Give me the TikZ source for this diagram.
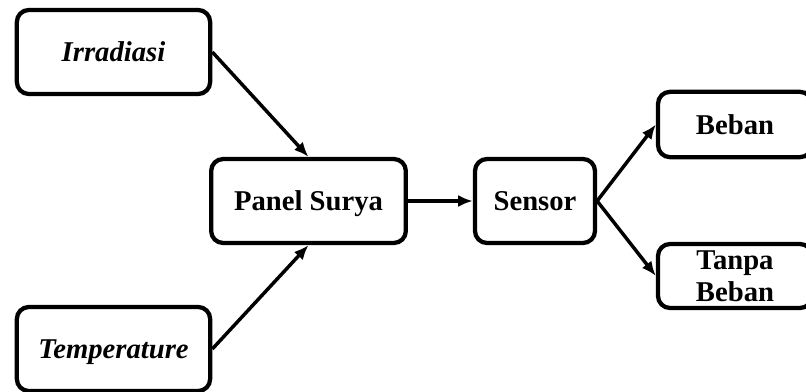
\documentclass[tikz,border=0pt]{standalone}
\usepackage{fontspec}
\setmainfont{Liberation Serif}
\usetikzlibrary{arrows.meta}
\begin{document}
\begin{tikzpicture}[x=0.75pt,y=-0.75pt,
  block/.style={draw=black, line width=3.2pt, rounded corners=9pt, fill=white,
    font=\fontsize{21.5}{24}\selectfont\bfseries, align=center,
    inner sep=0pt},
  oneline/.style={text height=19.1pt, text depth=4.7pt},
  flow/.style={line width=2.6pt, -{Latex[length=11pt,width=9pt]}}]
  \useasboundingbox (0,0) rectangle (806,392);
  \clip (0,0) rectangle (806,392);
  \fill[white] (0,0) rectangle (806,392);
  % input blocks
  \node[block, oneline, minimum width=145pt, minimum height=63pt] (irr) at (113.5,52) {\itshape Irradiasi};
  \node[block, oneline, minimum width=145pt, minimum height=63pt] (temp) at (113.5,349) {\itshape Temperature};
  % processing chain
  \node[block, oneline, minimum width=146pt, minimum height=63pt] (panel) at (308.5,201) {Panel Surya};
  \node[block, oneline, minimum width=90pt, minimum height=63pt] (sensor) at (535,201) {Sensor};
  % outputs
  \node[block, oneline, minimum width=115.5pt, minimum height=49pt] (beban) at (735,124.5) {Beban};
  \node[block, minimum width=115.5pt, minimum height=48pt] (tanpa) at (735,276) {Tanpa\\Beban};
  % connectors
  \draw[flow] (irr.east) -- (panel.north);
  \draw[flow] (temp.east) -- (panel.south);
  \draw[flow] (panel.east) -- (sensor.west);
  \draw[flow] (sensor.east) -- (beban.west);
  \draw[flow] (sensor.east) -- (tanpa.west);
\end{tikzpicture}
\end{document}
